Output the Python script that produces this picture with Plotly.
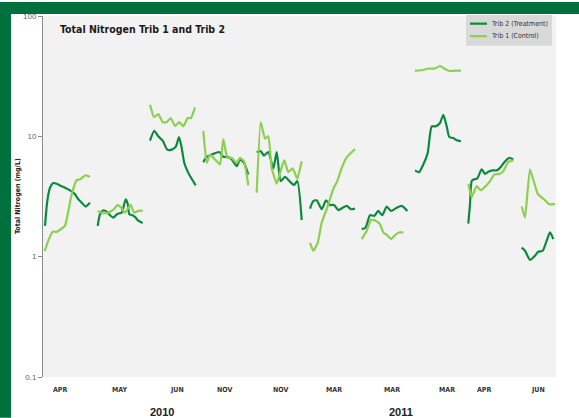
import plotly.graph_objects as go

# ---------------- data (x = sample position along the axis, v = mg/L) ----------------
trib2_x = [45, 47.3, 50, 53.3, 56.7, 60, 65, 70, 75, 78.3, 81.7, 85.7, 87.7, 90, None,
           97.7, 100, 103.3, 106.7, 110, 113.3, 116, 118.3, 121.7, 123.3, 125.7, 127.7, 129.3, 131.7, 135, 138.3, 142.7, None,
           150, 154.3, 158.3, 162.7, 167.3, 171.7, 176, 179, 181.7, 184.3, 188.3, 195.7, None,
           203.3, 206.7, 211.7, 219.3, 223.3, 227.3, 231.7, 236.7, 240, 244, 248.3, None,
           256.7, 260.7, 264, 268.3, 273.3, 276.7, 280.7, 285, 289.3, 294, 297.3, 301.7, None,
           310, 313.3, 316.7, 321.7, 326, 330, 334, 338.3, 342.7, 346.7, 351, 355, None,
           361.7, 365.7, 370, 374.3, 378.3, 382.3, 386.7, 391, 396.7, 401.7, 407.3, None,
           415, 419, 423.3, 427.7, 431.7, 435.7, 440, 443.3, 446.7, 449.3, 453.3, 456.7, 461, None,
           468.3, 470, 471.7, 474, 477.3, 481.7, 485, 488.3, 492.3, 496.7, 500, 504.3, 509.3, 513.3, None,
           521.7, 525, 530, 535, 538.3, 542.7, 546.7, 550, 553.3]
trib2_v = [1.80, 2.90, 3.74, 4.09, 4.04, 3.91, 3.74, 3.56, 3.30, 3.00, 2.81, 2.61, 2.69, 2.81, None,
           1.80, 2.25, 2.43, 2.37, 2.21, 2.11, 2.21, 2.28, 2.32, 2.55, 3.00, 2.75, 2.25, 2.22, 2.14, 1.99, 1.90, None,
           9.21, 11.1, 10.0, 9.21, 7.76, 7.76, 8.27, 9.87, 8.00, 6.01, 4.97, 3.91, None,
           6.10, 6.75, 7.06, 7.41, 6.75, 6.75, 6.42, 5.65, 6.42, 6.01, 4.82, None,
           7.38, 7.52, 6.92, 7.41, 5.41, 7.41, 4.25, 4.61, 4.25, 3.94, 4.25, 2.01, None,
           2.51, 2.90, 2.94, 2.48, 2.94, 2.69, 2.69, 2.44, 2.55, 2.64, 2.48, 2.51, None,
           1.69, 1.75, 2.21, 2.18, 2.40, 2.21, 2.61, 2.40, 2.55, 2.64, 2.40, None,
           5.21, 5.04, 5.84, 7.28, 12.1, 12.1, 12.9, 15.1, 12.1, 9.87, 9.68, 9.27, 9.10, None,
           1.88, 2.73, 4.25, 4.39, 4.47, 5.31, 4.88, 5.07, 5.21, 5.21, 5.47, 6.10, 6.62, 6.42, None,
           1.19, 1.12, 0.94, 1.02, 1.10, 1.12, 1.36, 1.59, 1.40]

trib1_x = [44.7, 48.3, 52.7, 56.7, 60.7, 65, 68.3, 71.7, 76.7, 80, 85, 90, None,
           97.7, 101.7, 106.7, 110, 114, 117.7, 121.7, 125, 128.3, 130.7, 134, 138.3, 142.7, None,
           150, 154, 158.3, 162.7, 166.7, 170.7, 175, 179.3, 183.3, 187.7, 191, 195, None,
           203.3, 206.7, 210, 215, 220, 223.3, 227.3, 231.7, 236.7, 240, 244, 248.3, None,
           256.7, 260.7, 265, 268.3, 271.7, 276.7, 280, 284.3, 288.3, 292.7, 297.3, 301.7, None,
           310, 313.3, 317.7, 321.7, 326.7, 333.3, 337.3, 341.7, 346.7, 355, None,
           361.7, 366.7, 371, 375.7, 380, 383.3, 386.7, 391, 395, 399, 403.3, None,
           415, 423.3, 428.3, 435, 440, 445, 450, 455, 461, None,
           468.3, 471.7, 476.7, 480.7, 485, 490, 494.3, 500, 503.3, 508.3, 513.3, None,
           521.7, 525, 530, 537.7, 544, 549.3, 555]
trib1_v = [1.11, 1.36, 1.61, 1.61, 1.69, 1.80, 2.40, 3.30, 4.33, 4.39, 4.73, 4.61, None,
           2.40, 2.32, 2.30, 2.36, 2.48, 2.69, 2.52, 2.32, 2.55, 2.69, 2.32, 2.40, 2.41, None,
           18.3, 14.4, 15.3, 13.1, 13.1, 14.2, 12.2, 13.1, 12.1, 14.2, 14.2, 17.4, None,
           11.1, 6.01, 7.06, 6.42, 5.84, 9.50, 6.62, 6.62, 6.01, 6.62, 6.21, 3.91, None,
           3.40, 13.1, 9.57, 10.0, 5.47, 4.04, 4.97, 6.34, 5.04, 5.41, 4.44, 6.21, None,
           1.30, 1.12, 1.30, 1.92, 2.48, 3.66, 4.25, 5.47, 6.70, 7.85, None,
           1.40, 1.64, 2.02, 1.99, 1.86, 1.59, 1.52, 1.40, 1.51, 1.59, 1.59, None,
           35.1, 35.6, 36.6, 36.6, 38.4, 36.3, 34.9, 35.1, 35.1, None,
           4.04, 3.13, 3.86, 3.56, 3.81, 4.25, 4.82, 4.88, 5.14, 6.14, 6.30, None,
           2.61, 2.11, 5.31, 3.33, 3.00, 2.73, 2.73]

series_names = ["Trib 2 (Treatment)", "Trib 1 (Control)"]
month_labels = ["APR", "MAY", "JUN", "NOV", "NOV", "MAR", "MAR", "MAR", "APR", "JUN"]
month_pos = [60, 119, 177, 224, 280, 334, 392, 447, 484, 538]
year_labels = ["2010", "2011"]
year_pos = [162, 401]
y_ticks = [0.1, 1, 10, 100]
y_tick_text = ["0.1", "1", "10", "100"]

# ---------------- layout geometry ----------------
W, H = 579, 418
L, R, T, B = 43, 23, 14, 41
plot_w = W - L - R
plot_h = H - T - B

def px_x(px):
    return (px - L) / plot_w

def px_y(py):
    return (H - B - py) / plot_h

DARK = "#0b8a3e"
LIGHT = "#8dcf4f"
FRAME = "#00703c"
NARROW = "DejaVu Sans Condensed, Liberation Sans Narrow, sans-serif"

fig = go.Figure()
fig.add_trace(go.Scatter(x=trib2_x, y=trib2_v, mode="lines", name=series_names[0],
                         line=dict(color=DARK, width=2.2, shape="spline", smoothing=0.6),
                         connectgaps=False, showlegend=False))
fig.add_trace(go.Scatter(x=trib1_x, y=trib1_v, mode="lines", name=series_names[1],
                         line=dict(color=LIGHT, width=2.2, shape="spline", smoothing=0.4),
                         connectgaps=False, showlegend=False))

annotations = []
for lab, pos in zip(month_labels, month_pos):
    annotations.append(dict(x=pos, xref="x", y=px_y(390), yref="paper", text="<b>" + lab + "</b>",
                            showarrow=False, xanchor="center", yanchor="middle",
                            font=dict(family=NARROW, size=7, color="#333333")))
for lab, pos in zip(year_labels, year_pos):
    annotations.append(dict(x=pos, xref="x", y=px_y(412), yref="paper", text="<b>" + lab + "</b>",
                            showarrow=False, xanchor="center", yanchor="middle",
                            font=dict(family="Liberation Sans, Arial, sans-serif", size=11, color="#222222")))
annotations.append(dict(x=px_x(58), xref="paper", y=px_y(27), yref="paper",
                        text="<b>Total Nitrogen Trib 1 and Trib 2</b>", showarrow=False,
                        xanchor="left", yanchor="middle",
                        font=dict(family=NARROW, size=10.5, color="#1a1a1a")))
annotations.append(dict(x=px_x(18), xref="paper", y=px_y(195), yref="paper",
                        text="<b>Total Nitrogen (mg/L)</b>", showarrow=False, textangle=-90,
                        xanchor="center", yanchor="middle",
                        font=dict(family=NARROW, size=7, color="#222222")))

shapes = [
    dict(type="rect", xref="paper", yref="paper", x0=px_x(0), x1=px_x(W), y0=px_y(12), y1=px_y(0),
         fillcolor=FRAME, line=dict(width=0), layer="above"),
    dict(type="rect", xref="paper", yref="paper", x0=px_x(0), x1=px_x(11), y0=px_y(H), y1=px_y(0),
         fillcolor=FRAME, line=dict(width=0), layer="above"),
    # legend box
    dict(type="rect", xref="paper", yref="paper", x0=px_x(466), x1=px_x(552), y0=px_y(44), y1=px_y(13),
         fillcolor="#d9d9d9", line=dict(width=0), layer="above"),
]
legend_y = [21.7, 34.3]
for name, col, ly in zip(series_names, [DARK, LIGHT], legend_y):
    shapes.append(dict(type="line", xref="paper", yref="paper", x0=px_x(470), x1=px_x(487),
                       y0=px_y(ly), y1=px_y(ly), line=dict(color=col, width=2.2), layer="above"))
    annotations.append(dict(x=px_x(488.5), xref="paper", y=px_y(ly), yref="paper", text=name,
                            showarrow=False, xanchor="left", yanchor="middle",
                            font=dict(family=NARROW, size=7, color="#333333")))

fig.update_layout(
    width=W, height=H,
    margin=dict(l=L, r=R, t=T, b=B, pad=0),
    paper_bgcolor="white", plot_bgcolor="#f2f2f2",
    showlegend=False,
    annotations=annotations, shapes=shapes,
    xaxis=dict(range=[L, W - R], showticklabels=False, showgrid=False, zeroline=False,
               showline=False, ticks=""),
    yaxis=dict(type="log", range=[-1, 2], tickvals=y_ticks, ticktext=y_tick_text,
               showgrid=False, zeroline=False, showline=True, linecolor="#8c8c8c", linewidth=1,
               ticks="outside", ticklen=4, tickcolor="#8c8c8c",
               tickfont=dict(family="Liberation Sans, Arial, sans-serif", size=8, color="#666666")),
)

fig.write_html("out.html")
